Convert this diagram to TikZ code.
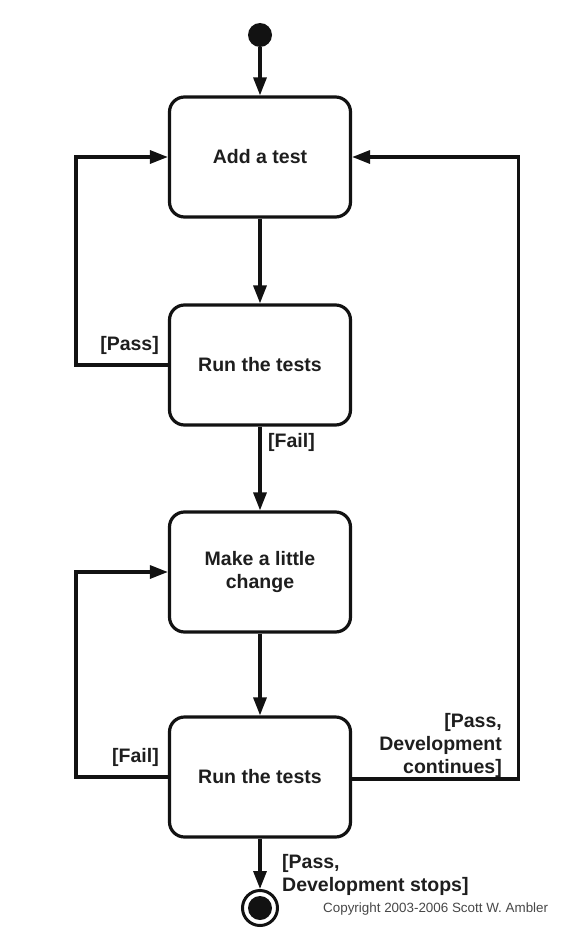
\documentclass[tikz,border=0pt]{standalone}
\usepackage{fontspec}
\setmainfont{Liberation Sans}
\usetikzlibrary{arrows.meta}
\definecolor{ink}{HTML}{121212}
\definecolor{txt}{HTML}{1E1E1E}
\begin{document}
\begin{tikzpicture}[x=1pt,y=-1pt,
  state/.style={draw=ink, line width=3.2pt, rounded corners=15pt, fill=white,
    minimum width=181pt, minimum height=120pt, align=center, text=txt,
    font=\bfseries\fontsize{19.5}{23.5}\selectfont},
  flow/.style={draw=ink, line width=3.2pt, -{Triangle[length=18pt,width=13pt]}},
  guard/.style={inner sep=0pt, text=txt, font=\bfseries\fontsize{19.5}{23}\selectfont},
]
\useasboundingbox (0,0) rectangle (568,934);

% initial and final states
\node[circle, fill=ink, minimum size=24pt, inner sep=0pt] (start) at (260,35) {};
\node[circle, draw=ink, line width=3pt, fill=white, minimum size=35pt, inner sep=0pt] (stop) at (260,908) {};
\node[circle, fill=ink, minimum size=24pt, inner sep=0pt] (stopdot) at (stop) {};

% activities
\node[state] (add)    at (260,157) {Add a test};
\node[state] (run1)   at (260,365) {Run the tests};
\node[state] (change) at (260,572) {Make a little\\change};
\node[state] (run2)   at (260,777) {Run the tests};

% transitions
\draw[flow] (start) -- (add.north);
\draw[flow] (add.south) -- (run1.north);
\draw[flow] (run1.south) -- (change.north);
\draw[flow] (change.south) -- (run2.north);
\draw[flow] (run2.south) -- (stop.north);
\draw[flow] (run1.west) -- ++(-92,0) |- (add.west);
\draw[flow] (run2.west) -- ++(-92,0) |- (change.west);
\draw[flow] ([yshift=-2pt]run2.east) -- ++(166,0) |- (add.east);

% guards
\node[guard, anchor=east] (gpass) at (159,345) {[Pass]};
\node[guard, anchor=west] (gfail) at (268,442) {[Fail]};
\node[guard, anchor=east] (gfail2) at (159,757) {[Fail]};
\node[guard, anchor=east, align=right] (gcont) at (502,745) {[Pass,\\Development\\continues]};
\node[guard, anchor=west, align=left] (gstop) at (282,875) {[Pass,\\Development stops]};

% credit line
\node[inner sep=0pt, anchor=west, text=black!72, font=\fontsize{13.4}{16}\selectfont] (credit) at (323,909) {Copyright 2003-2006 Scott W. Ambler};
\end{tikzpicture}
\end{document}
